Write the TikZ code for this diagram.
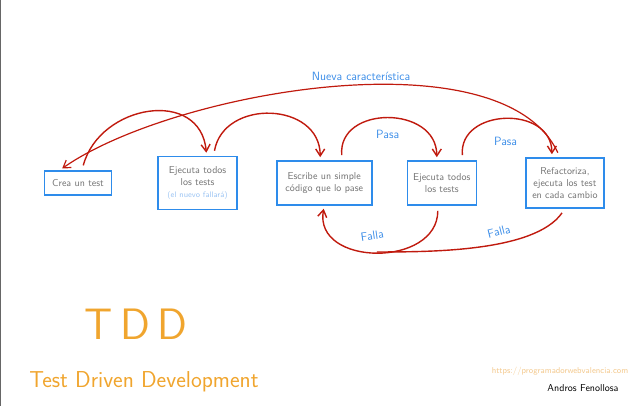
\documentclass[tikz,border=0pt]{standalone}
\usepackage{tikz}
\usetikzlibrary{arrows.meta,positioning}
\usepackage{xcolor}

\definecolor{boxblue}{HTML}{2E8CEB}
\definecolor{flowred}{HTML}{C01A0E}
\definecolor{lblblue}{HTML}{3D8EE8}
\definecolor{tddorange}{HTML}{F0A52E}
\definecolor{urlorange}{HTML}{F3C88C}

\begin{document}
\begin{tikzpicture}[x=1pt, y=-1pt, >={Straight Barb[length=7pt,width=9pt]},
        box/.style={draw=boxblue, line width=1.6pt, fill=white, align=center,
            text=black!55, font=\sffamily, inner sep=2pt},
        flow/.style={->, draw=flowred, line width=1.4pt, shorten <=5pt, shorten >=3pt},
        lbl/.style={text=lblblue, font=\sffamily\large}]
        \useasboundingbox (0,0) rectangle (640,406);
        \draw[black!60, line width=1.2pt] (0.6,0) -- (0.6,406);

        \node[box, minimum width=67pt, minimum height=24pt] (Crea) at (78,183) {Crea un test};
        \node[box, minimum width=79pt, minimum height=53pt] (Run) [right=45pt of Crea]
            {Ejecuta todos\\los tests\\{\footnotesize\color{lblblue!50}(el nuevo fallará)}};
        \node[box, minimum width=95pt, minimum height=44pt] (Code) [right=38pt of Run]
            {Escribe un simple\\código que lo pase};
        \node[box, minimum width=69pt, minimum height=44pt] (ReRun) [right=34pt of Code]
            {Ejecuta todos\\los tests};
        \node[box, minimum width=78pt, minimum height=50pt] (Ref) [right=48pt of ReRun]
            {Refactoriza,\\ejecuta los test\\en cada cambio};

        % forward steps
        \draw[flow] ([xshift=4pt]Crea.north) to[out=75, in=95, looseness=1.4] ([xshift=9pt]Run.north);
        \draw[flow] ([xshift=16pt]Run.north) to[out=80, in=90, looseness=1.4] ([xshift=-4pt]Code.north);
        \draw[flow] ([xshift=18pt]Code.north) to[out=95, in=90, looseness=1.5]
            node[pos=0.5, below=7pt, lbl] {Pasa} ([xshift=-5pt]ReRun.north);
        \draw[flow] ([xshift=21pt]ReRun.north) to[out=95, in=90, looseness=1.5]
            node[pos=0.5, below=14pt, lbl] {Pasa} ([xshift=-13pt]Ref.north);

        % new feature, back to the start
        \draw[flow, line width=1.2pt] ([xshift=-5pt]Ref.north) to[out=115, in=35, looseness=0.7]
            node[pos=0.45, above=1pt, lbl] {Nueva característica} ([xshift=16pt]Crea.north west);

        % failing tests
        \draw[flow] ([xshift=-4pt]ReRun.south) to[out=-90, in=-100, looseness=1.4]
            coordinate[pos=0.5] (Join)
            node[pos=0.52, above=8pt, lbl, rotate=8] {Falla} (Code.south);
        \draw[flow, -, shorten >=0pt] (Ref.south) to[out=-125, in=0, looseness=0.7]
            node[pos=0.4, above=3pt, lbl, rotate=14] {Falla} (Join);

        % titles
        \node[text=tddorange, font=\sffamily\fontsize{44}{44}\selectfont] (TDD) at (136,324) {T\,D\,D};
        \node[text=tddorange, font=\sffamily\fontsize{23}{23}\selectfont] (Sub) at (144,382) {Test Driven Development};
        \node[text=urlorange, font=\sffamily\fontsize{8.5}{9}\selectfont] (Url) at (560,371) {https://programadorwebvalencia.com};
        \node[text=black, font=\sffamily\fontsize{10}{10}\selectfont] (Sig) at (583,388) {Andros Fenollosa};
\end{tikzpicture}
\end{document}
